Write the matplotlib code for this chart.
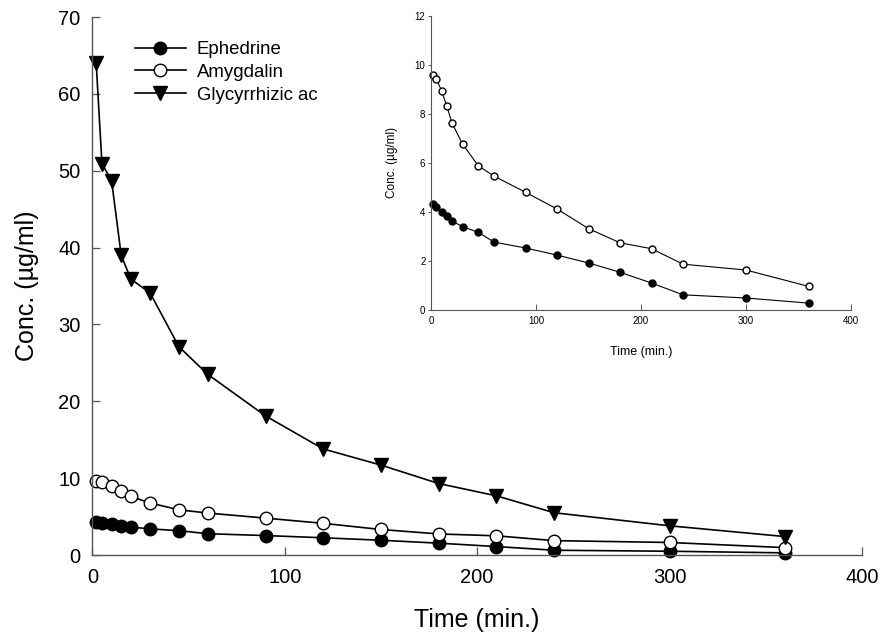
import numpy as np
import matplotlib.pyplot as plt

plt.rcParams['font.family'] = ['Liberation Sans', 'DejaVu Sans']

# sampling times (min.)
time = [2, 5, 10, 15, 20, 30, 45, 60, 90, 120, 150, 180, 210, 240, 300, 360]

# concentrations (ug/ml)
ephedrine = [4.32, 4.22, 3.99, 3.83, 3.63, 3.40, 3.17, 2.77, 2.53, 2.24,
             1.92, 1.54, 1.10, 0.62, 0.49, 0.28]
amygdalin = [9.58, 9.44, 8.94, 8.32, 7.62, 6.77, 5.88, 5.46, 4.80, 4.12,
             3.32, 2.74, 2.50, 1.87, 1.63, 0.96]
glycyrrhizic = [64.0, 50.9, 48.7, 39.0, 35.9, 34.1, 27.1, 23.5, 18.1, 13.8,
                11.7, 9.3, 7.7, 5.5, 3.8, 2.4]

labels = ['Ephedrine', 'Amygdalin', 'Glycyrrhizic ac']

fig = plt.figure(figsize=(8.82, 6.42), dpi=100)

# main plot
ax = fig.add_axes([0.1047, 0.1355, 0.8726, 0.838])
ax.plot(time, ephedrine, '-o', color='black', mfc='black', mec='black',
        ms=9, lw=1.2, clip_on=False, label=labels[0])
ax.plot(time, amygdalin, '-o', color='black', mfc='white', mec='black',
        ms=9, lw=1.2, clip_on=False, label=labels[1])
ax.plot(time, glycyrrhizic, '-v', color='black', mfc='black', mec='black',
        ms=9.5, lw=1.2, clip_on=False, label=labels[2])

ax.set_xlim(0, 400)
ax.set_ylim(0, 70)
ax.set_xticks([0, 100, 200, 300, 400])
ax.set_yticks(np.arange(0, 71, 10))
ax.spines['top'].set_visible(False)
ax.spines['right'].set_visible(False)
for s in ['left', 'bottom']:
    ax.spines[s].set_color('#555555')
    ax.spines[s].set_linewidth(1.0)
ax.tick_params(direction='in', length=5.8, width=0.9, color='#555555',
               labelsize=14.5)
ax.tick_params(axis='y', pad=8.6)
ax.tick_params(axis='x', pad=9.5)
ax.set_xlabel('Time (min.)', fontsize=18, labelpad=15)
ax.set_ylabel('Conc. (µg/ml)', fontsize=18, labelpad=14)
ax.legend(loc='upper left', bbox_to_anchor=(0.034, 0.986), frameon=False,
          fontsize=13.4, handlelength=2.7, handletextpad=0.6,
          labelspacing=0.3)

# inset
ins = fig.add_axes([0.4887, 0.5171, 0.4762, 0.4584])
ins.plot(time, ephedrine, '-o', color='black', mfc='black', mec='black',
         ms=5, lw=0.8, clip_on=False)
ins.plot(time, amygdalin, '-o', color='black', mfc='white', mec='black',
         ms=5, lw=0.8, clip_on=False)
ins.set_xlim(0, 400)
ins.set_ylim(0, 12)
ins.set_xticks([0, 100, 200, 300, 400])
ins.set_yticks([0, 2, 4, 6, 8, 10, 12])
ins.spines['top'].set_visible(False)
ins.spines['right'].set_visible(False)
for s in ['left', 'bottom']:
    ins.spines[s].set_color('#555555')
    ins.spines[s].set_linewidth(0.8)
ins.tick_params(axis='x', direction='in', length=4, width=0.7, color='#555555',
                labelsize=7, pad=4)
ins.tick_params(axis='y', direction='out', length=2.5, width=0.7,
                color='#555555', labelsize=7, pad=1.5)
ins.set_xlabel('Time (min.)', fontsize=9, labelpad=15)
ins.set_ylabel('Conc. (µg/ml)', fontsize=8.5, labelpad=12)

plt.savefig('out.png', dpi=100)
